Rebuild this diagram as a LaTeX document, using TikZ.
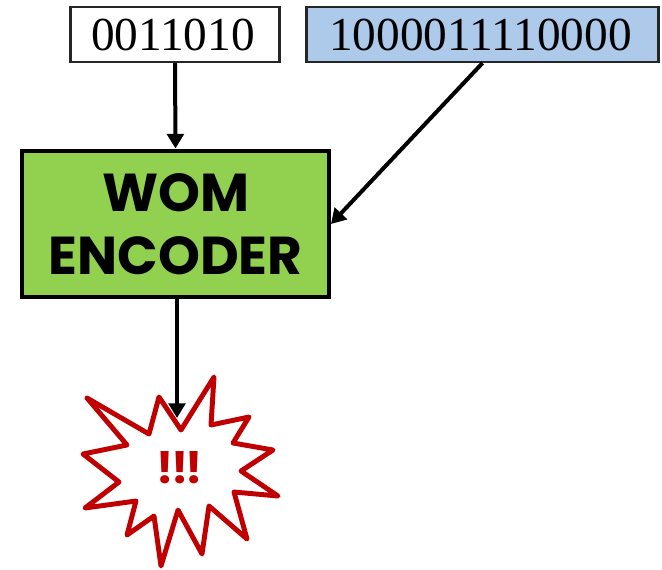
\documentclass[tikz,border=0pt]{standalone}
\usepackage{fontspec}
\setmainfont{Liberation Serif}
\setsansfont{Poppins}
\usepackage{xcolor}
\usetikzlibrary{arrows.meta, positioning}
\definecolor{wordblue}{HTML}{AECAEB}
\definecolor{encgreen}{HTML}{92D050}
\definecolor{burstred}{HTML}{C00000}
\tikzset{
    bitbox/.style={draw=black!85, line width=1.8pt, inner sep=0pt, minimum height=41pt, font=\fontsize{35.5}{36}\selectfont},
    encbox/.style={draw=black, line width=3.2pt, fill=encgreen, inner sep=0pt, minimum width=230pt, minimum height=110pt, align=center, font=\fontsize{40}{47}\selectfont\sffamily\bfseries},
    wire/.style={-{Triangle[width=12.5pt,length=11pt]}, line width=3pt, black}
}
\begin{document}
\begin{tikzpicture}[x=0.75pt,y=-0.75pt]
\useasboundingbox (0,0) rectangle (662,569);
% Input words
\node[bitbox, minimum width=157pt] (databits) at (175,34.5) {\hspace*{-3pt}0011010};
\node[bitbox, minimum width=264pt, fill=wordblue] (codebits) at (482.5,34.5) {\hspace*{-3pt}1000011110000};
% Encoder
\node[encbox] (encoder) at (175.5,224) {WOM\\ENCODER};
% Burst
\coordinate (bursttip) at (177,418);
\draw[burstred, line width=3.7pt, line join=round, line cap=round]
    (214,377) -- (211,425) -- (249,417) -- (233,443) -- (273,450) -- (241,471)
    -- (278,496) -- (234,492) -- (247,539) -- (209,506) -- (202,554) -- (178,510)
    -- (161,566) -- (154,516) -- (127,535) -- (136,501) -- (85,508) -- (119,482)
    -- (83,454) -- (127,445) -- (87,398) -- (149,434) -- (159,397) -- (181,430) -- cycle;
\node[burstred, font=\fontsize{33}{33}\selectfont\sffamily\bfseries] (alarm) at (180,468) {!\kern-2pt!\kern-2pt!};
% Connections
\draw[wire] (databits.south) -- (encoder.north);
\draw[wire] (codebits.south) -- (encoder.east);
\draw[wire] (encoder.south -| bursttip) -- (bursttip);
\end{tikzpicture}
\end{document}
